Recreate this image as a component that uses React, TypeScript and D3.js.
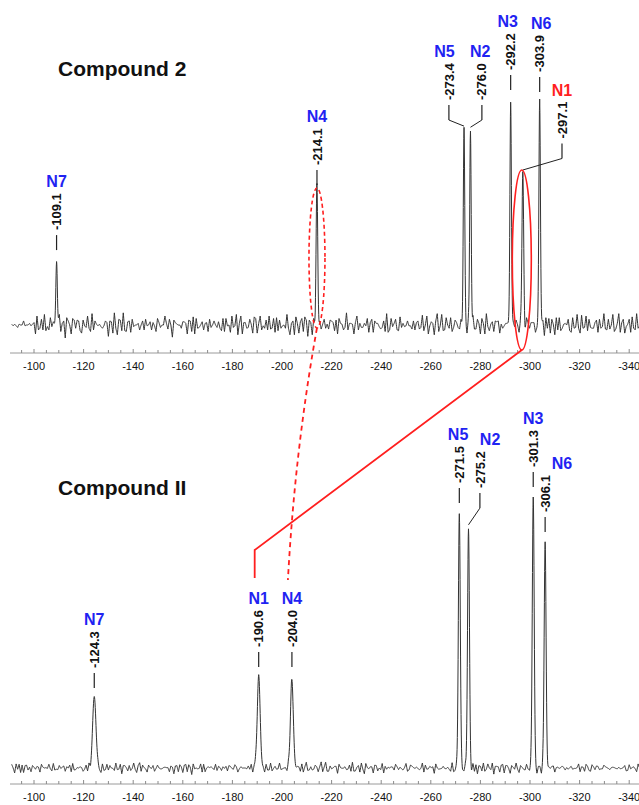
import React from 'react';
import * as d3 from 'd3';

// ppm ticks on both axes
const tickLabels = [-100, -120, -140, -160, -180, -200, -220, -240, -260, -280, -300, -320, -340];

// Compound 2 (upper spectrum)
const c2Names = ['N7', 'N4', 'N5', 'N2', 'N3', 'N1', 'N6'];
const c2Shifts = [-109.1, -214.1, -273.4, -276.0, -292.2, -297.1, -303.9];
const c2Heights = [30, 60, 87.5, 87, 100, 68, 100];
const c2Widths = [0.35, 0.4, 0.35, 0.35, 0.35, 0.4, 0.35];
const c2LabelShifts = [-109.1, -214.1, -267.3, -280.6, -292.2, -312.9, -303.9];
const c2NameShifts = [-109.1, -214.1, -265.5, -279.9, -291.0, -312.9, -304.5];
const c2LabelLevels = [33.3, 62.2, 91.1, 91.1, 104.4, 74, 103.6];

// Compound II (lower spectrum)
const cIINames = ['N7', 'N1', 'N4', 'N5', 'N2', 'N3', 'N6'];
const cIIShifts = [-124.3, -190.6, -204.0, -271.5, -275.2, -301.3, -306.1];
const cIIHeights = [26, 34, 32, 94.5, 89, 100, 84];
const cIIWidths = [0.8, 0.7, 0.7, 0.45, 0.45, 0.45, 0.45];
const cIILabelShifts = [-124.3, -190.6, -204.0, -271.5, -279.8, -301.3, -306.1];
const cIINameShifts = [-124.3, -190.6, -204.0, -271.0, -283.9, -301.3, -312.9];
const cIILabelLevels = [29.5, 37.3, 37.3, 97.8, 95.9, 103.7, 87.1];

// baseline noise, read by eye
const noiseA = [3, -5, 7, -2, -8, 4, 1, -6, 9, -3, -7, 5, 2, -4, 8, -1, -9, 6, 0, -5, 4, -2, 7, -6, 3, -8, 5, 1, -3, 6, -7, 2, 8, -4, -1, 5, -9, 3, 6, -2, -6, 4, 9, -5, 0, 7, -3, -8, 2, 5, -4, 6, -1, -7, 8, -2, 3, -6, 4, 1, -5];
const noiseB = [-2, 4, -6, 1, 5, -3, -1, 6, -4, 2, 7, -5, 0, 3, -7, 4, -2, 5, -6, 1, 3, -4, 6, -1, -5, 2, 4, -3, 7, -6, 1, -2, 5, -4, 3, 0, -7, 6, -1, 2, -5, 4, -3, 1, 6, -2, -4];

const W = 639;
const H = 805;
const blue = '#1f23f2';
const red = '#ff1f1f';

const x = d3.scaleLinear().domain([-100, -340]).range([34, 629.2]);
const yTop = d3.scaleLinear().domain([0, 100]).range([325, 100]);
const yBot = d3.scaleLinear().domain([0, 100]).range([768, 497]);

function noiseAt(p: number, off: number) {
  const t = (-91 - p) / 0.6;
  const i = Math.floor(t);
  const f = t - i;
  const n = (k: number) => noiseA[(k + off) % noiseA.length] + noiseB[(k + 2 * off) % noiseB.length];
  return n(i) * (1 - f) + n(i + 1) * f;
}

function spectrum(shifts: number[], heights: number[], widths: number[], amp: number, off: number) {
  return d3.range(-91, -344.05, -0.1).map((p) => {
    let v = 0;
    shifts.forEach((s, i) => {
      const d = (p - s) / widths[i];
      v += heights[i] * Math.exp(-Math.LN2 * d * d);
    });
    v += noiseAt(p, off) * amp;
    return [p, v] as [number, number];
  });
}

function Axis({ y }: { y: number }) {
  const minor = d3.range(-95, -346, -5);
  return (
    <g>
      <line x1={10} x2={W} y1={y} y2={y} stroke="#9a9a9a" strokeWidth={1} />
      {minor.map((t) => (
        <line key={t} x1={x(t)} x2={x(t)} y1={y} y2={y - (t % 20 === 0 ? 4 : 3)} stroke="#8a8a8a" strokeWidth={1} />
      ))}
      {tickLabels.map((t) => (
        <text key={t} x={x(t)} y={y + 17} textAnchor="middle" fontSize={11} fill="#111">
          {t}
        </text>
      ))}
    </g>
  );
}

function Labels(props: {
  names: string[];
  shifts: number[];
  heights: number[];
  labelShifts: number[];
  nameShifts: number[];
  labelLevels: number[];
  y: d3.ScaleLinear<number, number>;
  nameColor: (n: string) => string;
}) {
  const { names, shifts, heights, labelShifts, nameShifts, labelLevels, y, nameColor } = props;
  return (
    <g>
      {names.map((n, i) => {
        const px = x(shifts[i]);
        const peakTop = y(heights[i]);
        const lx = x(labelShifts[i]);
        const db = y(labelLevels[i]);
        const textBottom = db - 20;
        const textTop = textBottom - 37;
        return (
          <g key={n}>
            <line x1={lx} x2={lx} y1={db} y2={db - 15} stroke="#222" strokeWidth={1.2} />
            {lx !== px && (
              <line x1={lx} x2={px} y1={db} y2={peakTop - 2} stroke="#222" strokeWidth={1} />
            )}
            <text
              transform={`translate(${lx + 4.6},${textBottom}) rotate(-90)`}
              fontSize={13}
              fontWeight="bold"
              fill="#111"
            >
              {shifts[i].toFixed(1)}
            </text>
            <text x={x(nameShifts[i])} y={textTop - 6} textAnchor="middle" fontSize={16} fontWeight="bold" fill={nameColor(n)}>
              {n}
            </text>
          </g>
        );
      })}
    </g>
  );
}

export default function App() {
  const top = spectrum(c2Shifts, c2Heights, c2Widths, 0.36, 0);
  const bot = spectrum(cIIShifts, cIIHeights, cIIWidths, 0.15, 17);
  const lineTop = d3.line<[number, number]>().x((d) => x(d[0])).y((d) => yTop(d[1]));
  const lineBot = d3.line<[number, number]>().x((d) => x(d[0])).y((d) => yBot(d[1]));

  const n1x = x(-297.1);
  const n1Top = yTop(68) - 2;
  const n4x = x(-214.1);
  const n4Top = yTop(60) - 2;
  const bN1x = x(-190.6) - 4;
  const bN4x = x(-204.0) - 4;

  return (
    <svg width={W} height={H} style={{ position: 'absolute', left: 0, top: 0, background: '#fff', fontFamily: '"Liberation Sans", Arial, sans-serif' }}>
      <text x={58} y={76} fontSize={21} fontWeight="bold" fill="#111">Compound 2</text>
      <text x={58} y={495} fontSize={21} fontWeight="bold" fill="#111">Compound II</text>

      <path d={lineTop(top) || ''} fill="none" stroke="#333" strokeWidth={1} />
      <path d={lineBot(bot) || ''} fill="none" stroke="#333" strokeWidth={1} />

      <Axis y={353} />
      <Axis y={784} />

      <Labels names={c2Names} shifts={c2Shifts} heights={c2Heights} labelShifts={c2LabelShifts} nameShifts={c2NameShifts} labelLevels={c2LabelLevels} y={yTop} nameColor={(n) => (n === 'N1' ? red : blue)} />
      <Labels names={cIINames} shifts={cIIShifts} heights={cIIHeights} labelShifts={cIILabelShifts} nameShifts={cIINameShifts} labelLevels={cIILabelLevels} y={yBot} nameColor={() => blue} />

      {/* correlation marks */}
      <ellipse cx={n1x - 1} cy={(n1Top + 350) / 2} rx={9.5} ry={(350 - n1Top) / 2} fill="none" stroke={red} strokeWidth={1.6} />
      <ellipse cx={n4x} cy={(n4Top + 328) / 2} rx={8} ry={(328 - n4Top) / 2} fill="none" stroke={red} strokeWidth={1.6} strokeDasharray="4,3" />
      <polyline points={`${n1x - 1},350 ${bN1x},550 ${bN1x},578`} fill="none" stroke={red} strokeWidth={1.8} />
      <path d={`M${n4x},328 Q${n4x - 22},450 ${bN4x},580`} fill="none" stroke={red} strokeWidth={1.8} strokeDasharray="5,4" />
    </svg>
  );
}
